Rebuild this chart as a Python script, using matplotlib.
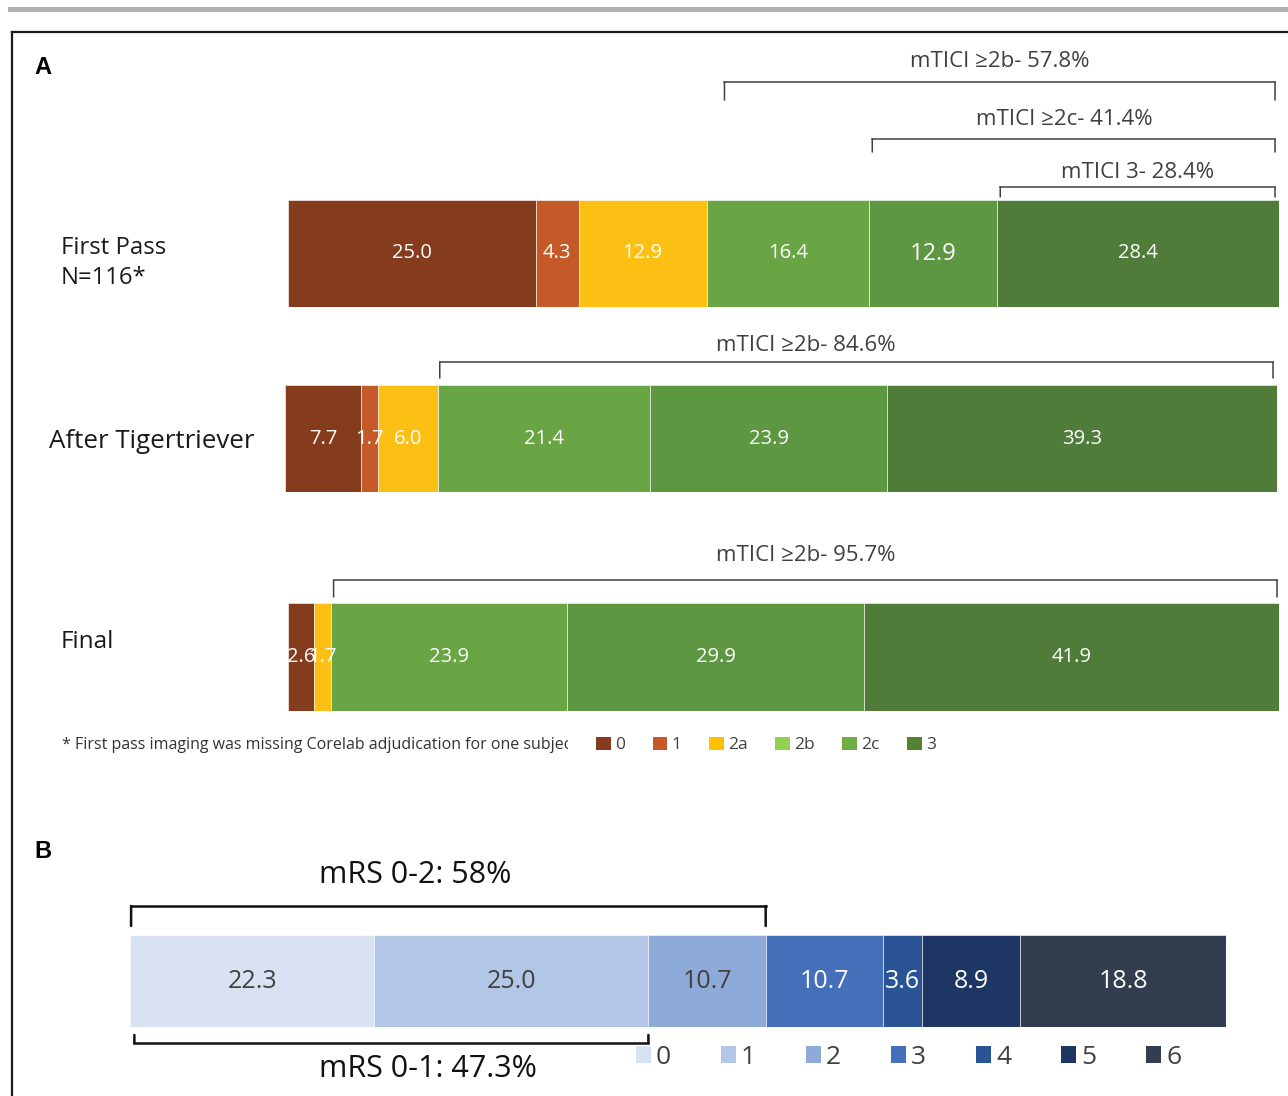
import matplotlib
matplotlib.use("Agg")
from matplotlib import pyplot as plt
from matplotlib.patches import Patch, Rectangle
from matplotlib.lines import Line2D
from matplotlib.transforms import offset_copy

# ---- data ----
tici_grades = ['0', '1', '2a', '2b', '2c', '3']
first_pass = [25.0, 4.3, 12.9, 16.4, 12.9, 28.4]
after_tiger = [7.7, 1.7, 6.0, 21.4, 23.9, 39.3]
final_tici = [2.6, 0.0, 1.7, 23.9, 29.9, 41.9]
row_labels = ['First Pass\nN=116*', 'After Tigertriever', 'Final']
first_pass_brackets = ['mTICI \u22652b- 57.8%', 'mTICI \u22652c- 41.4%', 'mTICI 3- 28.4%']
after_bracket = 'mTICI \u22652b- 84.6%'
final_bracket = 'mTICI \u22652b- 95.7%'
footnote = '* First pass imaging was missing Corelab adjudication for one subject'

mrs_scores = ['0', '1', '2', '3', '4', '5', '6']
mrs_values = [22.3, 25.0, 10.7, 10.7, 3.6, 8.9, 18.8]
mrs_brackets = ['mRS 0-2: 58%', 'mRS 0-1: 47.3%']

# ---- styles ----
tici_bar_colors = ['#843c1c', '#c55a28', '#fcbf14', '#69a544', '#5d9742', '#4f7c39']
tici_legend_colors = ['#843c1c', '#c55a28', '#ffc000', '#92d050', '#70ad47', '#548235']
mrs_colors = ['#d9e2f2', '#b2c6e6', '#8eaad9', '#4370b8', '#2b5496', '#1d3664', '#323e50']
mrs_text_colors = ['#404040', '#404040', '#404040', 'white', 'white', 'white', 'white']

FONT = ['Open Sans', 'DejaVu Sans']
plt.rcParams['font.family'] = FONT

W, H = 1288, 1096
fig = plt.figure(figsize=(W / 100, H / 100), dpi=100)


def px_box(x0, y0, x1, y1):
    return [x0 / W, 1 - y1 / H, (x1 - x0) / W, (y1 - y0) / H]


def px_pt(x, y):
    return x / W, 1 - y / H


def stacked_row(ax, values, colors, text_colors, fs=14.5, big=None):
    total = sum(values)
    left = 0
    for i, v in enumerate(values):
        if v > 0:
            ax.barh(0, v, left=left, height=1, align='edge', color=colors[i],
                    edgecolor='white', linewidth=0.4)
            size = fs if big is None or i != big else fs + 2.5
            ax.text(left + v / 2, 0.5, f"{v:.1f}", ha='center', va='center',
                    color=text_colors[i], fontsize=size)
        left += v
    ax.set_xlim(0, total)
    ax.set_ylim(0, 1)
    ax.axis('off')


def bracket(ax, x0, x1, line_dy, tick_dy, label, text_dy, text_x=None,
            fs=16, color='#404040', lw=1.1, base=1):
    # x in data units, y as pixel offsets from the top (base=1) or bottom (base=0) of the bar
    t_line = offset_copy(ax.get_xaxis_transform(), fig=fig, x=0, y=line_dy, units='dots')
    t_tick = offset_copy(ax.get_xaxis_transform(), fig=fig, x=0, y=tick_dy, units='dots')
    ax.plot([x0, x1], [base, base], color=color, lw=lw, transform=t_line, clip_on=False,
            solid_capstyle='projecting')
    for xx in (x0, x1):
        ax.annotate('', xy=(xx, base), xycoords=t_tick, xytext=(xx, base), textcoords=t_line,
                    arrowprops=dict(arrowstyle='-', color=color, lw=lw, shrinkA=0, shrinkB=0))
    t_text = offset_copy(ax.get_xaxis_transform(), fig=fig, x=0, y=text_dy, units='dots')
    tx = (x0 + x1) / 2 if text_x is None else text_x
    ax.text(tx, base, label, transform=t_text, ha='center', va='center',
            fontsize=fs, color=color)


def cum_start(values, idx):
    return sum(values[:idx])


# ---- frame and top rule ----
fig.add_artist(Rectangle(px_pt(8, 12), (W - 8) / W, 5 / H, color='#b1b1b5', lw=0))
fig.add_artist(Line2D([12 / W, 12 / W], [0, 1 - 32 / H], color='#1a1a1a', lw=1.6))
fig.add_artist(Line2D([12 / W, 1], [1 - 32 / H, 1 - 32 / H], color='#1a1a1a', lw=1.6))

fig.text(*px_pt(34, 67), 'A', fontsize=17, fontweight='bold', family='Liberation Sans',
         va='center', ha='left')
fig.text(*px_pt(34, 852), 'B', fontsize=17, fontweight='bold', family='Liberation Sans',
         va='center', ha='left')

# ---- panel A ----
white6 = ['white'] * 6
ax1 = fig.add_axes(px_box(288, 200, 1279, 307))
stacked_row(ax1, first_pass, tici_bar_colors, white6, big=4)
ax2 = fig.add_axes(px_box(285, 385, 1277, 492))
stacked_row(ax2, after_tiger, tici_bar_colors, white6)
ax3 = fig.add_axes(px_box(288, 603, 1279, 711))
stacked_row(ax3, final_tici, tici_bar_colors, white6)

t1 = sum(first_pass)
bracket(ax1, cum_start(first_pass, 3) + 1.8, t1 - 0.4, 118, 100, first_pass_brackets[0], 139)
bracket(ax1, cum_start(first_pass, 4) + 0.3, t1 - 0.4, 61, 48, first_pass_brackets[1], 81,
        text_x=78.3)
bracket(ax1, cum_start(first_pass, 5) + 0.3, t1 - 0.4, 13, 3, first_pass_brackets[2], 28)
bracket(ax2, cum_start(after_tiger, 3) + 0.2, sum(after_tiger) - 0.4, 23, 7, after_bracket, 40,
        text_x=52.5)
bracket(ax3, cum_start(final_tici, 3) + 0.3, sum(final_tici) - 0.2, 23, 6, final_bracket, 48)

fig.text(*px_pt(61, 263), row_labels[0], fontsize=17.2, color='#1a1a1a', va='center',
         ha='left', linespacing=1.3)
fig.text(*px_pt(49, 442), row_labels[1], fontsize=18.6, color='#1a1a1a', va='center', ha='left')
fig.text(*px_pt(61, 642), row_labels[2], fontsize=17.5, color='#1a1a1a', va='center', ha='left')

# footnote, clipped where the legend starts
note_ax = fig.add_axes(px_box(55, 730, 568, 760))
note_ax.axis('off')
note_ax.text(0.013, 0.5, footnote, transform=note_ax.transAxes, fontsize=11.5,
             color='#333333', va='center', ha='left', clip_on=True)

leg_a = [Patch(facecolor=c, label=g) for c, g in zip(tici_legend_colors, tici_grades)]
fig.legend(handles=leg_a, ncol=6, loc='center left', bbox_to_anchor=px_pt(596, 745),
           frameon=False, fontsize=12.5, handlelength=0.85, handleheight=0.85,
           handletextpad=0.25, columnspacing=1.58, borderpad=0, borderaxespad=0,
           labelcolor='#404040')

# ---- panel B ----
axb = fig.add_axes(px_box(130, 935, 1226, 1027))
stacked_row(axb, mrs_values, mrs_colors, mrs_text_colors, fs=18)
bracket(axb, 0.1, sum(mrs_values[:3]), 29, 9, mrs_brackets[0], 60,
        text_x=26, fs=22, color='#111111', lw=1.8)
bracket(axb, 0.4, sum(mrs_values[:2]), -16, -8, mrs_brackets[1], -42,
        text_x=27.2, fs=22, color='#111111', lw=1.8, base=0)

leg_b = [Patch(facecolor=c, label=s) for c, s in zip(mrs_colors, mrs_scores)]
fig.legend(handles=leg_b, ncol=7, loc='center left', bbox_to_anchor=px_pt(636, 1057),
           frameon=False, fontsize=19, handlelength=0.55, handleheight=0.6,
           handletextpad=0.2, columnspacing=1.9, borderpad=0, borderaxespad=0,
           labelcolor='#404040')

fig.savefig('out.png', dpi=100)
